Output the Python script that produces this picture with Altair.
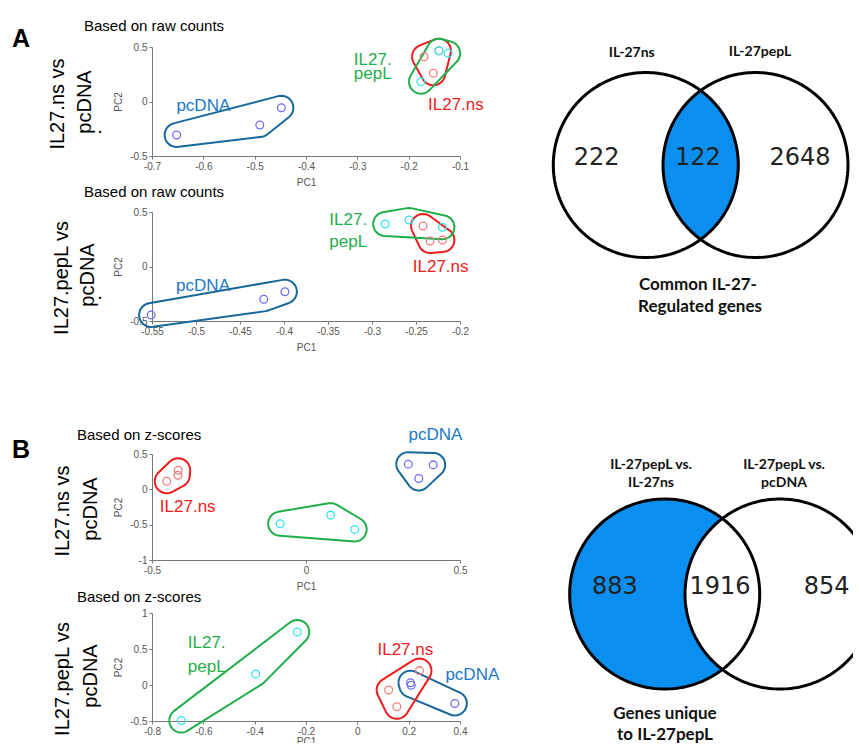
import altair as alt
import pandas as pd
import numpy as np

FONT = "Liberation Sans"
VFONT = "Lato"

GROUPS = ["pcDNA", "IL27.ns", "IL27.pepL"]
POINT_COLORS = ["#6e6ef2", "#f07c7c", "#2fe3f0"]
HULL_COLORS = ["#17689a", "#ee1c1c", "#1fae4a"]
TEXT_COLORS = ["#2178c6", "#ee1c1c", "#1fae4a"]

# ---------------- PCA panel data ----------------
grp9 = ["pcDNA"] * 3 + ["IL27.ns"] * 3 + ["IL27.pepL"] * 3

# A1: raw counts, IL27.ns vs pcDNA
a1_pc1 = [-0.652, -0.490, -0.448, -0.170, -0.152, -0.141, -0.141, -0.123, -0.176]
a1_pc2 = [-0.307, -0.216, -0.057, 0.411, 0.259, 0.466, 0.466, 0.442, 0.182]
a1_lab_text = ["pcDNA", "IL27.", "pepL", "IL27.ns"]
a1_lab_grp = ["pcDNA", "IL27.pepL", "IL27.pepL", "IL27.ns"]
a1_lab_x = [-0.600, -0.270, -0.270, -0.108]
a1_lab_y = [-0.041, 0.381, 0.252, -0.032]

# A2: raw counts, IL27.pepL vs pcDNA
a2_pc1 = [-0.551, -0.423, -0.399, -0.242, -0.234, -0.220, -0.285, -0.258, -0.220]
a2_pc2 = [-0.445, -0.301, -0.231, 0.372, 0.234, 0.243, 0.390, 0.427, 0.360]
a2_lab_text = ["pcDNA", "IL27.", "pepL", "IL27.ns"]
a2_lab_grp = ["pcDNA", "IL27.pepL", "IL27.pepL", "IL27.ns"]
a2_lab_x = [-0.492, -0.327, -0.327, -0.222]
a2_lab_y = [-0.179, 0.427, 0.228, -0.007]

# B1: z-scores, IL27.ns vs pcDNA
b1_pc1 = [0.332, 0.413, 0.366, -0.452, -0.416, -0.415, -0.084, 0.080, 0.158]
b1_pc2 = [0.356, 0.346, 0.154, 0.115, 0.200, 0.270, -0.486, -0.365, -0.567]
b1_lab_text = ["pcDNA", "IL27.ns"]
b1_lab_grp = ["pcDNA", "IL27.ns"]
b1_lab_x = [0.420, -0.384]
b1_lab_y = [0.774, -0.253]

# B2: z-scores, IL27.pepL vs pcDNA
b2_pc1 = [0.207, 0.210, 0.380, 0.122, 0.154, 0.242, -0.686, -0.396, -0.234]
b2_pc2 = [0.032, -0.004, -0.256, -0.070, -0.303, 0.200, -0.494, 0.154, 0.736]
b2_lab_text = ["pcDNA", "IL27.ns", "IL27.", "pepL"]
b2_lab_grp = ["pcDNA", "IL27.ns", "IL27.pepL", "IL27.pepL"]
b2_lab_x = [0.448, 0.187, -0.587, -0.587]
b2_lab_y = [0.140, 0.489, 0.582, 0.256]

# ---------------- Venn data ----------------
vA_sets = ["IL-27ns", "IL-27pepL"]
vA_counts = [222, 122, 2648]
vA_caption = ["Common IL-27-", "Regulated genes"]

vB_sets = ["IL-27pepL vs.", "IL-27ns", "IL-27pepL vs.", "pcDNA"]
vB_counts = [883, 1916, 854]
vB_caption = ["Genes unique", "to IL-27pepL"]


def convex_hull(points):
    pts = sorted(set(points))
    if len(pts) <= 2:
        return pts

    def cross(o, a, b):
        return (a[0] - o[0]) * (b[1] - o[1]) - (a[1] - o[1]) * (b[0] - o[0])

    lower = []
    for p in pts:
        while len(lower) >= 2 and cross(lower[-2], lower[-1], p) <= 0:
            lower.pop()
        lower.append(p)
    upper = []
    for p in reversed(pts):
        while len(upper) >= 2 and cross(upper[-2], upper[-1], p) <= 0:
            upper.pop()
        upper.append(p)
    return lower[:-1] + upper[:-1]


def hull_frame(pc1, pc2, grp, xdom, ydom, w, h, R=12, n=36):
    sx = w / (xdom[1] - xdom[0])
    sy = h / (ydom[1] - ydom[0])
    rows = []
    ang = np.linspace(0, 2 * np.pi, n, endpoint=False)
    for g in GROUPS:
        cand = []
        for x, y, gg in zip(pc1, pc2, grp):
            if gg != g:
                continue
            for a in ang:
                cand.append((round(x * sx + R * np.cos(a), 4), round(y * sy + R * np.sin(a), 4)))
        hull = convex_hull(cand)
        hull = hull + [hull[0]]
        for i, (hx, hy) in enumerate(hull):
            rows.append({"group": g, "i": i, "pc1": hx / sx, "pc2": hy / sy})
    return pd.DataFrame(rows)


def axis(values, title, tpad=6):
    return alt.Axis(values=values, tickCount=20, labelExpr="datum.value + ''", title=title, grid=False,
                    tickSize=3, labelFontSize=10, titleFontSize=10, titleFontWeight="normal",
                    labelColor="#555555", titleColor="#555555", domainColor="#777777",
                    tickColor="#777777", labelPadding=2, titlePadding=tpad,
                    labelFlush=False, labelOverlap=False, labelFont=FONT, titleFont=FONT)


def one():
    return pd.DataFrame({"k": [0]})


def scatter_panel(pc1, pc2, lab_text, lab_grp, lab_x, lab_y, xdom, xticks, ydom, yticks,
                  w, h, head, head_dx, head_dy, side, letter=None, dot=None, extra=0, venn=None,
                  xtpad=6):
    pts = pd.DataFrame({"pc1": pc1, "pc2": pc2, "group": grp9})
    hull = hull_frame(pc1, pc2, grp9, xdom, ydom, w, h)
    labs = pd.DataFrame({"pc1": lab_x, "pc2": lab_y, "text": lab_text, "group": lab_grp})
    xs = alt.Scale(domain=xdom, nice=False, zero=False)
    ys = alt.Scale(domain=ydom, range=[h + extra, extra], nice=False, zero=False)
    data_layer = alt.layer(
        alt.Chart(hull).mark_line(strokeWidth=2, strokeJoin="round").encode(
            x=alt.X("pc1:Q", scale=xs, axis=axis(xticks, "PC1", xtpad)),
            y=alt.Y("pc2:Q", scale=ys, axis=axis(yticks, "PC2")),
            color=alt.Color("group:N", scale=alt.Scale(domain=GROUPS, range=HULL_COLORS), legend=None),
            order="i:Q"),
        alt.Chart(pts).mark_point(filled=False, size=60, strokeWidth=1.3, opacity=1).encode(
            x="pc1:Q", y="pc2:Q",
            stroke=alt.Stroke("group:N", scale=alt.Scale(domain=GROUPS, range=POINT_COLORS), legend=None)),
        alt.Chart(labs).mark_text(font=FONT, fontSize=17).encode(
            x="pc1:Q", y="pc2:Q", text="text:N",
            fill=alt.Fill("group:N", scale=alt.Scale(domain=GROUPS, range=TEXT_COLORS), legend=None)),
    )
    layers = [data_layer]
    if venn is not None:
        layers.append(venn)
    layers.append(alt.Chart(one()).mark_text(font=FONT, fontSize=15, align="left", baseline="alphabetic",
                                             color="black").encode(
        x=alt.value(head_dx), y=alt.value(head_dy + extra), text=alt.value(head)))
    for txt, dx, dy in side:
        layers.append(alt.Chart(one()).mark_text(font=FONT, fontSize=20, angle=270, align="center",
                                                 baseline="middle", color="black").encode(
            x=alt.value(dx), y=alt.value(dy + extra), text=alt.value(txt)))
    if dot is not None:
        layers.append(alt.Chart(one()).mark_text(font=FONT, fontSize=20, align="center",
                                                 baseline="alphabetic", color="black").encode(
            x=alt.value(dot[0]), y=alt.value(dot[1] + extra), text=alt.value(".")))
    if letter is not None:
        layers.append(alt.Chart(one()).mark_text(font="Liberation Sans Narrow, Liberation Sans", fontSize=25,
                                                 fontWeight="bold", align="left", baseline="alphabetic",
                                                 color="black").encode(
            x=alt.value(letter[1]), y=alt.value(letter[2] + extra), text=alt.value(letter[0])))
    ch = alt.layer(*layers).properties(width=w, height=h + extra)
    if venn is not None:
        ch = ch.resolve_scale(x="independent", y="independent")
    return ch


def venn_layer(d, fill_kind, counts, count_x, count_y, lab_x, lab_y, lab_t,
               caption, cap_x, cap_y, xdom, ydom, xrange, yrange):
    cx = [-d, d]
    th = np.linspace(0, 2 * np.pi, 241)
    circ = pd.DataFrame({
        "c": np.repeat(["L", "R"], len(th)),
        "i": np.tile(np.arange(len(th)), 2),
        "x": np.concatenate([cx[0] + np.cos(th), cx[1] + np.cos(th)]),
        "y": np.concatenate([np.sin(th), np.sin(th)]),
    })
    hh = np.sqrt(1 - d * d)
    if fill_kind == "lens":
        yy = np.linspace(-hh, hh, 301)
        s = np.sqrt(np.clip(1 - yy ** 2, 0, None))
        xl = cx[1] - s
        xr = cx[0] + s
    else:
        yy = np.unique(np.concatenate([np.linspace(-1, 1, 401), [-hh, hh]]))
        s = np.sqrt(np.clip(1 - yy ** 2, 0, None))
        xl = cx[0] - s
        xr = np.where(np.abs(yy) < hh, cx[1] - s, cx[0] + s)
    area = pd.DataFrame({"y": yy, "x": xl, "x2": xr})
    xs = alt.Scale(domain=xdom, range=xrange, nice=False, zero=False)
    ys = alt.Scale(domain=ydom, range=yrange, nice=False, zero=False)
    cnt = pd.DataFrame({"x": count_x, "y": [count_y] * 3, "t": [str(c) for c in counts]})
    labs = pd.DataFrame({"x": lab_x, "y": lab_y, "t": lab_t})
    caps = pd.DataFrame({"x": cap_x, "y": cap_y, "t": caption})
    return alt.layer(
        alt.Chart(area).mark_area(orient="horizontal", color="#0a8ff0", opacity=1).encode(
            y=alt.Y("y:Q", scale=ys, axis=None),
            x=alt.X("x:Q", scale=xs, axis=None), x2="x2:Q"),
        alt.Chart(circ).mark_line(color="black", strokeWidth=3).encode(
            x="x:Q", y="y:Q", detail="c:N", order="i:Q"),
        alt.Chart(cnt).mark_text(font="DejaVu Sans", fontSize=24, color="#222222").encode(
            x="x:Q", y="y:Q", text="t:N"),
        alt.Chart(labs).mark_text(font=VFONT, fontSize=14, fontWeight="bold", color="#111111").encode(
            x="x:Q", y="y:Q", text="t:N"),
        alt.Chart(caps).mark_text(font=VFONT, fontSize=17, fontWeight="bold", color="#111111").encode(
            x="x:Q", y="y:Q", text="t:N"),
    )


W = 308
VA = venn_layer(0.593, "lens", vA_counts, [-1.124, -0.029, 1.074], 0.072,
                [-0.745, 0.642], [1.208, 1.222], vA_sets,
                vA_caption, [-0.029, -0.007], [-1.297, -1.532],
                [-2.4935, 1.647], [-1.6865, 1.2757], [318, 701], [274, 0])
VB = venn_layer(0.607, "crescent", vB_counts, [-1.13, -0.025, 1.098], 0.077,
                [-0.751, -0.751, 0.649, 0.649], [1.36, 1.165, 1.36, 1.165], vB_sets,
                vB_caption, [-0.604, -0.604], [-1.265, -1.485],
                [-2.656, 1.375], [-1.3368, 1.4737], [318, 701], [347, 80])

A1 = scatter_panel(a1_pc1, a1_pc2, a1_lab_text, a1_lab_grp, a1_lab_x, a1_lab_y,
                   [-0.7, -0.1], [-0.7, -0.6, -0.5, -0.4, -0.3, -0.2, -0.1],
                   [-0.5, 0.5], [-0.5, 0, 0.5], W, 109,
                   "Based on raw counts", -68, -16,
                   [("IL27.ns vs", -94, 57), ("pcDNA", -67, 55)],
                   letter=("A", -140, 0), dot=(-52, 86), venn=VA)
A2 = scatter_panel(a2_pc1, a2_pc2, a2_lab_text, a2_lab_grp, a2_lab_x, a2_lab_y,
                   [-0.55, -0.2], [-0.55, -0.5, -0.45, -0.4, -0.35, -0.3, -0.25, -0.2],
                   [-0.5, 0.5], [-0.5, 0, 0.5], W, 109,
                   "Based on raw counts", -68, -15,
                   [("IL27.pepL vs", -90, 66), ("pcDNA", -64, 63)],
                   dot=(-52, 87), extra=3)
B1 = scatter_panel(b1_pc1, b1_pc2, b1_lab_text, b1_lab_grp, b1_lab_x, b1_lab_y,
                   [-0.5, 0.5], [-0.5, 0, 0.5],
                   [-1, 0.5], [-1, -0.5, 0, 0.5], W, 106,
                   "Based on z-scores", -75, -14,
                   [("IL27.ns vs", -89, 57), ("pcDNA", -61, 55)],
                   letter=("B", -140, 4), extra=80, venn=VB)
B2 = scatter_panel(b2_pc1, b2_pc2, b2_lab_text, b2_lab_grp, b2_lab_x, b2_lab_y,
                   [-0.8, 0.4], [-0.8, -0.6, -0.4, -0.2, 0, 0.2, 0.4],
                   [-0.5, 1], [-0.5, 0, 0.5, 1], W, 108,
                   "Based on z-scores", -75, -11,
                   [("IL27.pepL vs", -89, 66), ("pcDNA", -61, 63)], xtpad=0)

# fixed-size canvas (845 x 735); the stacked panels start 144 px from the left, 39 px from the top
chart = alt.vconcat(A1, A2, B1, B2, spacing=53, bounds="flush").properties(
    autosize=alt.AutoSizeParams(type="none"),
    padding={"left": 144, "top": 39, "right": 393, "bottom": 696},
    background="white",
).configure_view(stroke=None)

chart.save("out.html", embed_options={"renderer": "svg", "actions": False})
